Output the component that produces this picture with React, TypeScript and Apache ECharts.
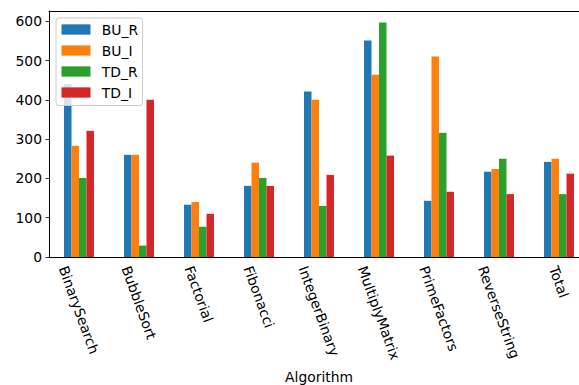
import React, { useEffect, useRef } from "react";
import * as echarts from "echarts";

const categories = [
  "BinarySearch",
  "BubbleSort",
  "Factorial",
  "Fibonacci",
  "IntegerBinary",
  "MultiplyMatrix",
  "PrimeFactors",
  "ReverseString",
  "Total",
];
const seriesNames = ["BU_R", "BU_I", "TD_R", "TD_I"];
const BU_R = [440, 260, 133, 181, 421, 551, 143, 217, 242];
const BU_I = [283, 260, 140, 240, 400, 464, 510, 224, 250];
const TD_R = [201, 29, 77, 201, 130, 597, 316, 250, 160];
const TD_I = [321, 400, 110, 181, 209, 258, 166, 160, 212];
const yTicks = [0, 100, 200, 300, 400, 500, 600];
const colors = ["#1f77b4", "#ff7f0e", "#2ca02c", "#d62728"];

const FONT_SIZE = 13.89;
const FONT_FAMILY = "'DejaVu Sans', sans-serif";

export default function App() {
  const ref = useRef<HTMLDivElement>(null);

  useEffect(() => {
    if (!ref.current) return;
    const chart = echarts.init(ref.current, null, { renderer: "svg" });
    const values = [BU_R, BU_I, TD_R, TD_I];
    chart.setOption({
      animation: false,
      textStyle: { fontFamily: FONT_FAMILY },
      grid: {
        left: 49,
        top: 11,
        width: 540,
        height: 246,
        containLabel: false,
        outerBoundsMode: "none",
      },
      legend: {
        left: 56,
        top: 18,
        orient: "vertical",
        data: seriesNames,
        icon: "rect",
        itemWidth: 29,
        itemHeight: 10.3,
        itemGap: 7,
        padding: [4.5, 4.5, 6, 5.5],
        backgroundColor: "rgba(255,255,255,0.8)",
        borderColor: "#cccccc",
        borderWidth: 1,
        borderRadius: 3,
        formatter: "{t|{name}}",
        textStyle: {
          fontSize: FONT_SIZE,
          fontFamily: FONT_FAMILY,
          color: "#000",
          lineHeight: 14,
          rich: {
            t: {
              fontSize: FONT_SIZE,
              fontFamily: FONT_FAMILY,
              color: "#000",
              lineHeight: 14,
              padding: [0, 0, 0, 6.3],
            },
          },
        },
      },
      xAxis: [
        {
          type: "category",
          data: categories,
          boundaryGap: true,
          position: "bottom",
          axisLine: { lineStyle: { color: "#000", width: 1 } },
          axisTick: { alignWithLabel: true, length: 3.5, interval: 0, lineStyle: { color: "#000", width: 0.8 } },
          axisLabel: { show: false },
          splitLine: { show: false },
          name: "Algorithm",
          nameLocation: "middle",
          nameGap: 120,
          nameTextStyle: {
            fontSize: FONT_SIZE,
            fontFamily: FONT_FAMILY,
            color: "#000",
            verticalAlign: "middle",
          },
        },
        {
          type: "category",
          data: categories,
          position: "top",
          axisLine: { lineStyle: { color: "#000", width: 1 } },
          axisTick: { show: false },
          axisLabel: { show: false },
        },
      ],
      yAxis: {
        type: "value",
        min: 0,
        max: 626,
        interval: 100,
        axisLine: { show: true, lineStyle: { color: "#000", width: 1 } },
        axisTick: { show: true, length: 3.5, customValues: yTicks, lineStyle: { color: "#000", width: 0.8 } },
        axisLabel: {
          customValues: yTicks,
          margin: 7,
          fontSize: FONT_SIZE,
          fontFamily: FONT_FAMILY,
          color: "#000",
        },
        splitLine: { show: false },
      },
      series: seriesNames.map((name, i) => ({
        name,
        type: "bar",
        xAxisIndex: 0,
        data: values[i],
        barWidth: 7.5,
        barGap: "0%",
        itemStyle: { color: colors[i] },
      })),
    });

    // x tick labels rotated like matplotlib (rot=-70, ha=center, va=top)
    const canvas = document.createElement("canvas");
    const ctx = canvas.getContext("2d");
    const fontStr = `${FONT_SIZE}px 'DejaVu Sans'`;
    if (ctx) ctx.font = fontStr;
    const ang = (70 * Math.PI) / 180;
    const axisY = chart.convertToPixel({ yAxisIndex: 0 }, 0) as number;
    const labelTop = axisY + 7;
    const H = FONT_SIZE * 1.1;
    const graphics = categories.map((cat) => {
      const x = chart.convertToPixel({ xAxisIndex: 0 }, cat) as number;
      const W = ctx ? ctx.measureText(cat).width : cat.length * 8;
      const bboxH = W * Math.sin(ang) + H * Math.cos(ang);
      return {
        type: "text",
        x,
        y: labelTop + bboxH / 2,
        rotation: -ang,
        silent: true,
        style: {
          text: cat,
          fill: "#000",
          font: fontStr,
          align: "center",
          verticalAlign: "middle",
        },
      };
    });
    chart.setOption({ graphic: graphics });

    return () => chart.dispose();
  }, []);

  return (
    <div
      ref={ref}
      style={{ position: "fixed", left: 0, top: 0, width: 579, height: 385, background: "#fff" }}
    />
  );
}
